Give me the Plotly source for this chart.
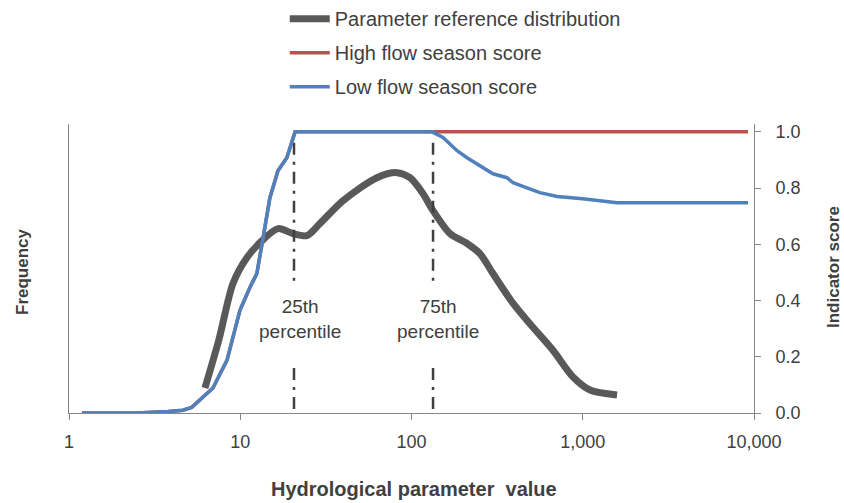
import numpy as np
import plotly.graph_objects as go

# Frequency distribution (left axis, relative units)
freq_x = [6.22, 7.5, 9.07, 10.95, 13.04, 16.6, 20.3, 24.5, 29.2, 39.8, 62.8, 82.2, 98, 116.8,
          133.6, 168, 211, 251, 299, 392, 512, 670, 877, 1102, 1585]
freq_y = [0.089, 0.26, 0.461, 0.553, 0.606, 0.656, 0.638, 0.631, 0.674, 0.755, 0.837, 0.855,
          0.837, 0.780, 0.720, 0.638, 0.603, 0.567, 0.496, 0.390, 0.305, 0.223, 0.128, 0.082, 0.064]

# Low flow season score
low_x = [1.19, 2.5, 3.8, 4.63, 5.2, 6.06, 6.93, 8.37, 9.96, 11.4, 12.5, 13.6, 14.9, 16.6, 18.7,
         20.9, 131.8, 152.8, 184.5, 211, 241, 299, 361, 392, 472, 562, 708, 1000, 1585, 9226]
low_y = [0.0, 0.0, 0.005, 0.01, 0.02, 0.057, 0.089, 0.188, 0.365, 0.447, 0.496, 0.624, 0.766,
         0.862, 0.908, 1.0, 1.0, 0.98, 0.933, 0.908, 0.887, 0.851, 0.837, 0.819, 0.801, 0.784,
         0.770, 0.762, 0.748, 0.748]

# High flow season score
high_x = [1.19, 2.5, 3.8, 4.63, 5.2, 6.06, 6.93, 8.37, 9.96, 11.4, 12.5, 13.6, 14.9, 16.6, 18.7,
          20.9, 131.8, 9226]
high_y = [0.0, 0.0, 0.005, 0.01, 0.02, 0.057, 0.089, 0.188, 0.365, 0.447, 0.496, 0.624, 0.766,
          0.862, 0.908, 1.0, 1.0, 1.0]

percentiles = [20.6, 133.6]
percentile_labels = ["25th<br>percentile", "75th<br>percentile"]
label_x = [22.3, 142.8]

x_tickvals = [1, 10, 100, 1000, 10000]
x_ticktext = ["1", "10", "100", "1,000", "10,000"]
y_tickvals = [0, 0.2, 0.4, 0.6, 0.8, 1.0]

FONT = "Liberation Sans, Arial, sans-serif"
TXT = "#404040"
AX = "#868686"

# plot-area pixel geometry
L, R, T, B = 69, 754, 124, 413
PW, PH = R - L, B - T

fig = go.Figure()

# percentile dash-dot lines (drawn first, below curves)
for p in percentiles:
    fig.add_trace(go.Scatter(x=[p, p, None, p, p], y=[0.961, 0.454, None, 0.16, 0.0],
                             mode="lines", yaxis="y2", showlegend=False, hoverinfo="skip",
                             line=dict(color="#404040", width=2.5, dash="12px,7px,3px,7px")))

fig.add_trace(go.Scatter(x=freq_x, y=freq_y, mode="lines", name="Parameter reference distribution",
                         line=dict(color="#595959", width=7, shape="spline", smoothing=0.8),
                         legendgroup="a", yaxis="y"))
fig.add_trace(go.Scatter(x=high_x, y=high_y, mode="lines", name="High flow season score",
                         line=dict(color="#C0504D", width=3.5), legendgroup="b", yaxis="y3"))
fig.add_trace(go.Scatter(x=low_x, y=low_y, mode="lines", name="Low flow season score",
                         line=dict(color="#4F81BD", width=3.5),
                         legendgroup="c", yaxis="y3"))

for lx, lt in zip(label_x, percentile_labels):
    fig.add_annotation(x=np.log10(lx), y=0.333, xref="x", yref="y2", text=lt, showarrow=False,
                       font=dict(family=FONT, size=19, color=TXT), align="center")

fig.add_annotation(x=(22 - L) / PW, y=(B - 272) / PH, xref="paper", yref="paper",
                   text="<b>Frequency</b>", showarrow=False, textangle=-90,
                   xanchor="center", yanchor="middle", font=dict(family=FONT, size=17, color=TXT))
fig.add_annotation(x=(833 - L) / PW, y=(B - 267) / PH, xref="paper", yref="paper",
                   text="<b>Indicator score</b>", showarrow=False, textangle=-90,
                   xanchor="center", yanchor="middle", font=dict(family=FONT, size=17, color=TXT))
fig.add_annotation(x=(414 - L) / PW, y=(B - 489) / PH, xref="paper", yref="paper",
                   text="<b>Hydrological parameter  value</b>", showarrow=False,
                   xanchor="center", yanchor="middle", font=dict(family=FONT, size=20, color=TXT))

YR = [0, 1.028]
fig.update_layout(
    width=844, height=503,
    margin=dict(l=L, r=844 - R, t=T, b=503 - B, autoexpand=False),
    paper_bgcolor="white", plot_bgcolor="white",
    font=dict(family=FONT, size=18, color=TXT),
    showlegend=True,
    legend=dict(x=0.315, y=1.432, xanchor="left", yanchor="top", tracegroupgap=5,
                font=dict(family=FONT, size=20, color=TXT), bgcolor="rgba(0,0,0,0)",
                itemwidth=40),
    xaxis=dict(type="log", range=[0, 4], tickvals=x_tickvals, ticktext=x_ticktext,
               showgrid=False, zeroline=False, showline=True, linecolor=AX, linewidth=1,
               ticks="outside", ticklen=6, tickcolor=AX, ticklabelstandoff=6,
               tickfont=dict(family=FONT, size=18, color=TXT)),
    yaxis=dict(range=YR, showticklabels=False, ticks="", showgrid=False, zeroline=False,
               showline=True, linecolor=AX, linewidth=1),
    # right axis: line and tick marks
    yaxis2=dict(range=YR, overlaying="y", side="right", tickvals=y_tickvals,
                showticklabels=False,
                showgrid=False, zeroline=False, showline=True, linecolor=AX, linewidth=1,
                ticks="outside", ticklen=6, tickcolor=AX),
    # right axis: tick labels (same scale, labels set slightly further out)
    yaxis3=dict(range=YR, overlaying="y", side="right", anchor="free", position=1, shift=11,
                tickvals=y_tickvals, tickformat=".1f",
                showgrid=False, zeroline=False, showline=False,
                ticks="outside", ticklen=6, tickcolor="rgba(0,0,0,0)",
                tickfont=dict(family=FONT, size=18, color=TXT)),
)

fig.write_html("out.html")
